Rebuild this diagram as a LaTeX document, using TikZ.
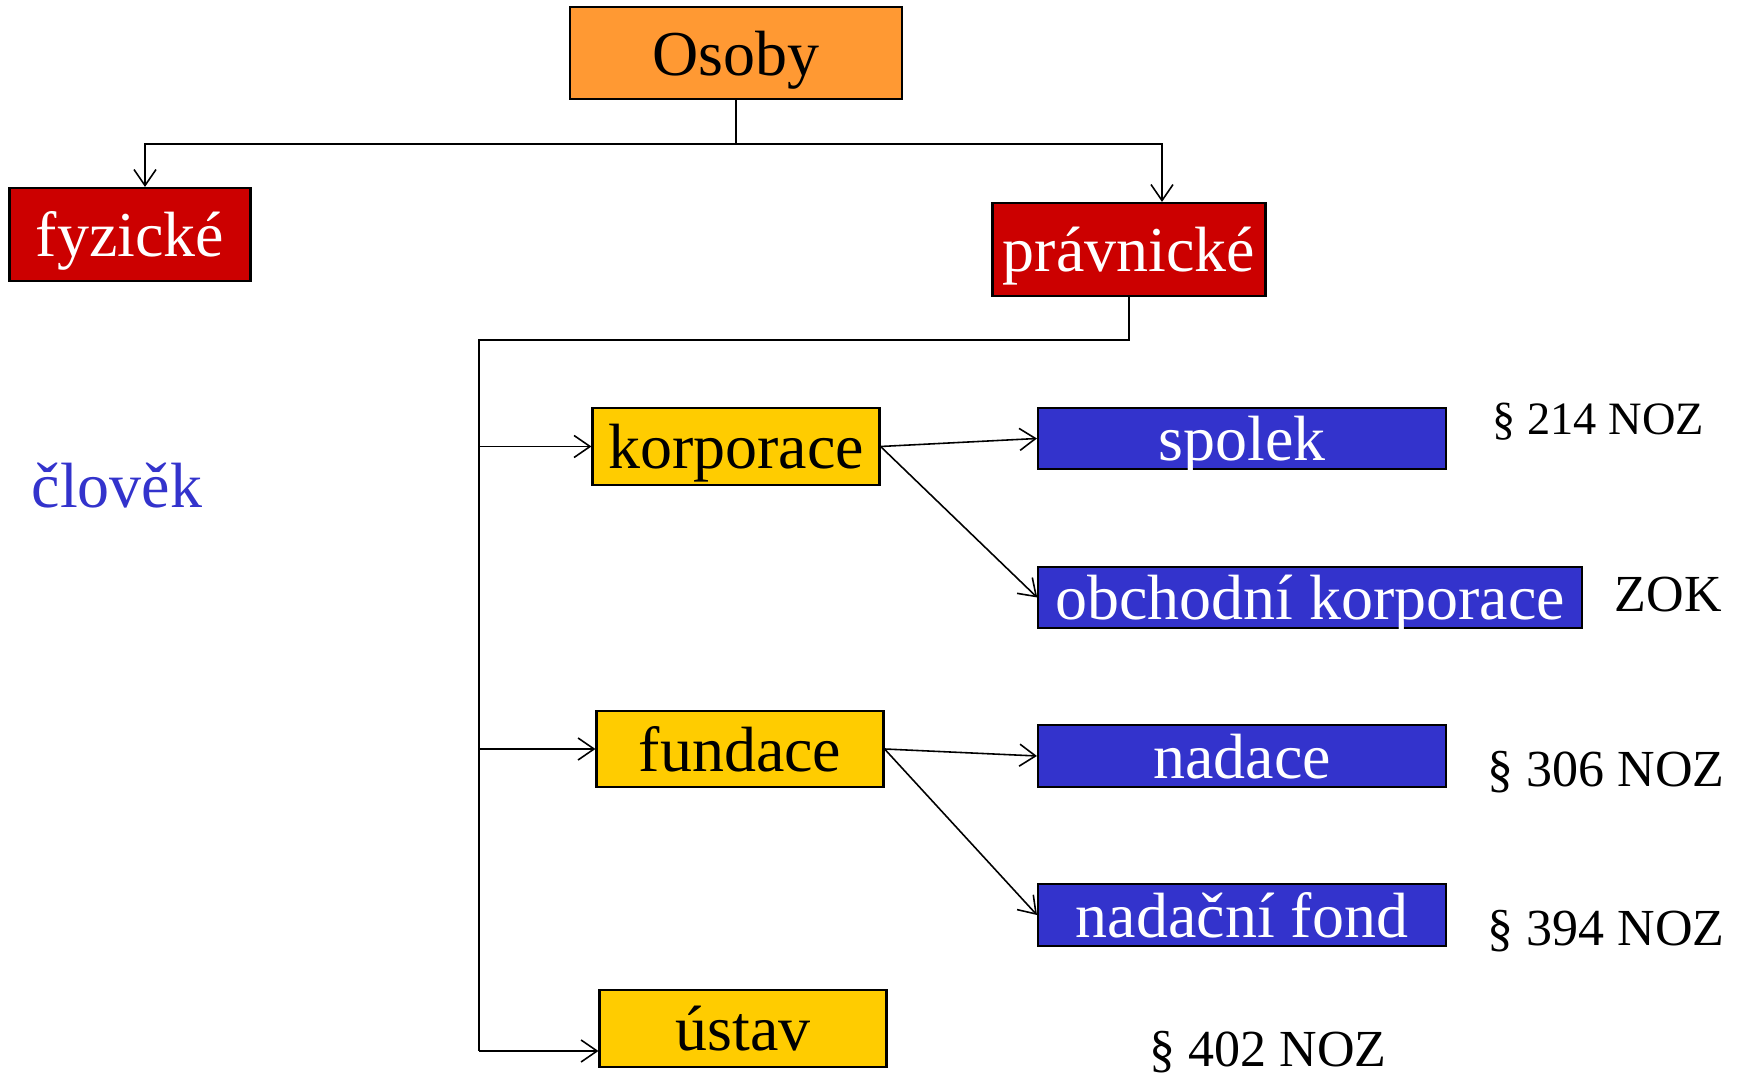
\documentclass[tikz,border=0pt]{standalone}
\usepackage{fontspec}
\setmainfont{Liberation Serif}
\usetikzlibrary{arrows.meta}
\definecolor{orangebox}{HTML}{FF9933}
\definecolor{redbox}{HTML}{CC0000}
\definecolor{yellowbox}{HTML}{FFCC00}
\definecolor{bluebox}{HTML}{3333CC}
\begin{document}
\begin{tikzpicture}[x=0.1mm,y=-0.1mm,line width=0.45pt,
  >={Straight Barb[length=1.6mm,width=2.2mm]},
  box/.style={draw,line width=0.6pt,inner sep=0pt,text height=12.6pt,text depth=0pt,
    font=\fontsize{18.2}{20}\selectfont},
  note/.style={anchor=base west,inner sep=0pt,font=\fontsize{14.8}{17}\selectfont}]

\useasboundingbox (0,0) rectangle (1742,1077);

\node[box,fill=orangebox,minimum width=33.25mm,minimum height=9.2mm] (osoby) at (736,53) {Osoby};
\node[box,fill=redbox,text=white,minimum width=24.1mm,minimum height=9.3mm] (fyzicke) at (130,234.5) {fyzické};
\node[box,fill=redbox,text=white,minimum width=27.3mm,minimum height=9.3mm] (pravnicke) at (1129,249.5) {právnické};
\node[box,fill=yellowbox,minimum width=28.7mm,minimum height=7.7mm] (korporace) at (736,446.5) {korporace};
\node[box,fill=yellowbox,minimum width=28.7mm,minimum height=7.6mm] (fundace) at (740,749) {fundace};
\node[box,fill=yellowbox,minimum width=28.7mm,minimum height=7.7mm] (ustav) at (743,1028.5) {ústav};
\node[box,fill=bluebox,text=white,minimum width=40.8mm,minimum height=6.1mm] (spolek) at (1242,438.5) {spolek};
\node[box,fill=bluebox,text=white,minimum width=54.35mm,minimum height=6.1mm] (obchodni) at (1310,597.5) {obchodní korporace};
\node[box,fill=bluebox,text=white,minimum width=40.8mm,minimum height=6.2mm] (nadace) at (1242,756) {nadace};
\node[box,fill=bluebox,text=white,minimum width=40.8mm,minimum height=6.2mm] (fond) at (1242,915) {nadační fond};

\node[anchor=base west,inner sep=0pt,text=bluebox,font=\fontsize{18.2}{20}\selectfont] (clovek) at (31,508) {člověk};
\node[note,font=\fontsize{13.2}{15}\selectfont] (p214) at (1492,435) {§ 214 NOZ};
\node[note] (zok) at (1614,612) {ZOK};
\node[note] (p306) at (1487,787) {§ 306 NOZ};
\node[note] (p394) at (1487,946) {§ 394 NOZ};
\node[note] (p402) at (1149,1067) {§ 402 NOZ};

% rozvetveni osob
\coordinate (split) at (736,144);
\coordinate (left) at (145,144);
\coordinate (right) at (1162,144);
\draw (osoby.south) -- (split);
\draw[->] (split) -- (left) -- (left |- fyzicke.north);
\draw[->] (split) -- (right) -- (right |- pravnicke.north);

% pravnicke osoby
\coordinate (trunk) at (479,340);
\coordinate (t1) at (479,446.5);
\coordinate (t2) at (479,749);
\coordinate (t3) at (479,1051);
\draw (pravnicke.south) |- (trunk) -- (t3);
\draw[->] (t1) -- (korporace.west);
\draw[->] (t2) -- (fundace.west);
\draw[->] (t3) -- (t3 -| ustav.west);

\draw[->] (korporace.east) -- (spolek.west);
\draw[->] (korporace.east) -- (obchodni.west);
\draw[->] (fundace.east) -- (nadace.west);
\draw[->] (fundace.east) -- (fond.west);
\end{tikzpicture}
\end{document}
